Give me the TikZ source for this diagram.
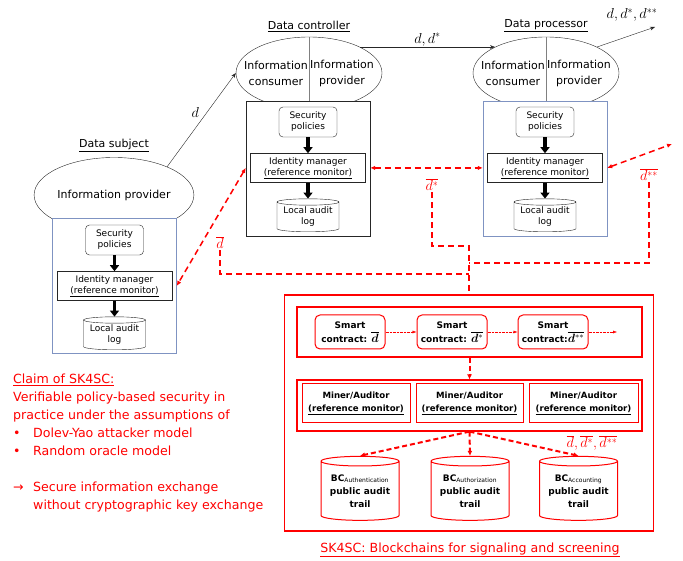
\documentclass[tikz,border=0pt]{standalone}
\usepackage{fontspec}
\setmainfont{DejaVu Sans}
\usepackage{bm}
\usetikzlibrary{arrows.meta,calc,positioning,shapes.geometric}
\definecolor{Ink}{HTML}{262626}
\definecolor{Alert}{HTML}{FF0000}
\definecolor{Slate}{HTML}{7F93C2}
\definecolor{Divider}{HTML}{808080}
\tikzset{
  role/.style={inner sep=1pt, font=\fontsize{11}{13}\selectfont},
  party/.style={ellipse, draw=Ink, minimum width=146pt, minimum height=72pt, inner sep=0pt},
  partytext/.style={inner sep=0pt, align=center, font=\fontsize{11}{16}\selectfont},
  agent/.style={rectangle, fill=white, minimum width=124pt, minimum height=135pt, inner sep=0pt},
  policy/.style={rounded corners=4pt, draw=Ink, minimum width=58pt, minimum height=30pt,
    inner sep=0pt, align=center, font=\fontsize{9}{11}\selectfont},
  monitor/.style={draw=Ink, minimum width=115pt, minimum height=29pt,
    inner sep=0pt, align=center, font=\fontsize{9}{11}\selectfont},
  auditlog/.style={cylinder, shape border rotate=90, aspect=0.13, draw=Ink,
    minimum width=62pt, minimum height=33pt, inner sep=0pt, align=center,
    font=\fontsize{9}{11}\selectfont},
  push/.style={-{Triangle[width=9pt,length=6pt]}, line width=3.5pt, draw=black},
  flow/.style={-{Stealth[length=5pt]}, draw=Ink},
  mathlabel/.style={inner sep=1pt, font=\fontsize{14.4}{17}\selectfont},
  alertmath/.style={inner sep=1pt, text=Alert, font=\fontsize{14.4}{17}\selectfont},
  alertlink/.style={{Latex[length=5pt,width=4.5pt]}-{Latex[length=5pt,width=4.5pt]},
    draw=Alert, line width=1.5pt, dash pattern=on 6pt off 4pt},
  alertbus/.style={draw=Alert, line width=1.5pt, dash pattern=on 6pt off 4pt},
  chainbox/.style={draw=Alert, line width=1.2pt, inner sep=0pt},
  contract/.style={rounded corners=5pt, draw=Alert, line width=1pt, minimum width=70pt,
    minimum height=34pt, inner sep=0pt, align=center,
    font=\bfseries\fontsize{9}{14}\selectfont},
  miner/.style={draw=Alert, line width=1pt, minimum height=38pt, inner sep=0pt,
    align=center, font=\bfseries\fontsize{8.6}{13}\selectfont},
  chain/.style={cylinder, shape border rotate=90, aspect=0.16, draw=Alert, line width=1pt,
    minimum width=78pt, minimum height=64pt, inner sep=0pt, align=center,
    font=\bfseries\fontsize{9}{13}\selectfont},
  chainstep/.style={-{Latex[length=4pt,width=3pt]}, draw=Alert, densely dotted, thin},
  chainflow/.style={-{Latex[length=5pt,width=5pt]}, draw=Alert, line width=2pt,
    dash pattern=on 5pt off 3pt},
  claim/.style={inner sep=0pt, align=left, text=Alert, font=\fontsize{12.6}{18}\selectfont},
  caption/.style={inner sep=0pt, text=Alert, font=\fontsize{12.6}{15}\selectfont}
}
\newcommand{\subtag}[1]{\textsubscript{\normalfont\fontsize{6}{6}\selectfont #1}}
\newcommand{\bigmath}[1]{{\fontsize{12}{12}\selectfont$#1$}}

\begin{document}
\begin{tikzpicture}[x=1pt,y=-1pt,node distance=16pt]
  \useasboundingbox (0,0) rectangle (683,561);

  % data subject
  \node[party, minimum width=145pt, minimum height=75pt, partytext] (subjell) at (114,195) {Information provider};
  \node[role, above=4pt of subjell.north] (subjlbl) {\underline{Data subject}};
  \node[agent, draw=Slate] (subjbox) at (114.5,285.5) {};
  \node[policy, below=7pt of subjbox.north] (subjsp) {Security\\policies};
  \node[monitor, below=of subjsp] (subjim) {Identity manager\\\underline{(reference monitor)}};
  \node[auditlog, below=of subjim] (subjlog) {Local audit\\log};
  \draw[push] (subjsp) -- (subjim);
  \draw[push] (subjim) -- (subjlog);

  % data controller
  \node[party] (ctrlell) at (309,73) {};
  \draw[Divider] (ctrlell.north) -- (ctrlell.south);
  \node[partytext, left=1pt of ctrlell.center] (ctrlcons) {Information\\consumer};
  \node[partytext, right=1pt of ctrlell.center] (ctrlprov) {Information\\provider};
  \node[role, above=4pt of ctrlell.north] (ctrllbl) {\underline{Data controller}};
  \node[agent, draw=Ink] (ctrlbox) at (308,168.5) {};
  \node[policy, below=6pt of ctrlbox.north] (ctrlsp) {Security\\policies};
  \node[monitor, below=of ctrlsp] (ctrlim) {Identity manager\\\underline{(reference monitor)}};
  \node[auditlog, below=of ctrlim] (ctrllog) {Local audit\\log};
  \draw[push] (ctrlsp) -- (ctrlim);
  \draw[push] (ctrlim) -- (ctrllog);

  % data processor
  \node[party] (procell) at (546,73) {};
  \draw[Divider] (procell.north) -- (procell.south);
  \node[partytext, left=1pt of procell.center] (proccons) {Information\\consumer};
  \node[partytext, right=1pt of procell.center] (procprov) {Information\\provider};
  \node[role, above=4pt of procell.north] (proclbl) {\underline{Data processor}};
  \node[agent, draw=Slate] (procbox) at (545,168.5) {};
  \node[policy, below=6pt of procbox.north] (procsp) {Security\\policies};
  \node[monitor, below=of procsp] (procim) {Identity manager\\\underline{(reference monitor)}};
  \node[auditlog, below=of procim] (proclog) {Local audit\\log};
  \draw[push] (procsp) -- (procim);
  \draw[push] (procim) -- (proclog);

  % data flow
  \coordinate (outd) at (655,27);
  \draw[flow] (subjell.28) -- node[mathlabel, above left=2pt] {$d$} (ctrlell.west);
  \draw[flow] (ctrlell.27) -- node[mathlabel, above] {$d,d^{*}$} (procell.153);
  \draw[flow] (procell.27) -- (outd);
  \node[mathlabel] (outlbl) at (632,15) {$d,d^{*},d^{**}$};

  % signaling to the blockchains
  \coordinate (outdss) at (672,144);
  \draw[alertlink] (ctrlim.west -| ctrlbox.west) -- (subjim.east -| subjbox.east);
  \draw[alertlink] (ctrlim.east -| ctrlbox.east) -- (procim.west -| procbox.west);
  \draw[alertlink] (procim.east -| procbox.east) -- (outdss);
  \node[alertmath] (dlbl) at (220,243) {$\overline{d}$};
  \node[alertmath] (dslbl) at (432,185) {$\overline{d^{*}}$};
  \node[alertmath] (dsslbl) at (649,175) {$\overline{d^{**}}$};

  % SK4SC
  \node[chainbox, minimum width=369pt, minimum height=236pt] (bigbox) at (469,413) {};
  \coordinate (busd) at (469,274);
  \coordinate (buss) at (469,246);
  \coordinate (busss) at (469,263);
  \draw[alertbus] (dlbl.south) |- (busd);
  \draw[alertbus] (dslbl.south) |- (buss) -- (bigbox.north);
  \draw[alertbus] (dsslbl.south) |- (busss);

  \node[chainbox, minimum width=345pt, minimum height=50pt] (scrow) at (469.5,332) {};
  \node[contract] (sc1) at (350,332) {Smart\\contract: \bigmath{\overline{\bm{d}}}};
  \node[contract, right=31pt of sc1] (sc2) {Smart\\contract: \bigmath{\overline{\bm{d}^{*}}}};
  \node[contract, right=30pt of sc2] (sc3) {Smart\\contract:\bigmath{\overline{\bm{d}^{**}}}};
  \coordinate (scnext) at (617,332);
  \draw[chainstep] (sc1) -- (sc2);
  \draw[chainstep] (sc2) -- (sc3);
  \draw[chainstep] (sc3) -- (scnext);

  \node[chainbox, minimum width=345pt, minimum height=51pt] (minerrow) at (469.5,405.5) {};
  \draw[chainflow] (scrow.south) -- (minerrow.north);
  \node[miner, minimum width=108pt] (miner1) at (356,403) {Miner/Auditor\\\underline{(reference monitor)}};
  \node[miner, minimum width=107pt] (miner2) at (469.5,403) {Miner/Auditor\\\underline{(reference monitor)}};
  \node[miner, minimum width=109pt] (miner3) at (583.5,403) {Miner/Auditor\\\underline{(reference monitor)}};

  \node[chain] (bc1) at (360,491) {BC\subtag{Authentication}\\public audit\\trail};
  \node[chain] (bc2) at (470,491) {BC\subtag{Authorization}\\public audit\\trail};
  \node[chain] (bc3) at (578.5,491) {BC\subtag{Accounting}\\public audit\\trail};
  \draw[chainflow] (minerrow.south) -- (bc1.north);
  \draw[chainflow] (minerrow.south) -- (bc2.north);
  \draw[chainflow] (minerrow.south) -- (bc3.north);
  \node[alertmath] (bclbl) at (592,443) {$\overline{d},\overline{d^{*}},\overline{d^{**}}$};

  \node[caption] (caption) at (470,550) {\underline{SK4SC: Blockchains for signaling and screening}};

  \node[claim, anchor=north west] (claim) at (13,374) {\underline{Claim of SK4SC:}\\
    Verifiable policy-based security in\\
    practice under the assumptions of\\
    \makebox[20pt][l]{•}Dolev-Yao attacker model\\
    \makebox[20pt][l]{•}Random oracle model\\[18pt]
    \makebox[20pt][l]{→}Secure information exchange\\
    \hspace*{20pt}without cryptographic key exchange};
\end{tikzpicture}
\end{document}
